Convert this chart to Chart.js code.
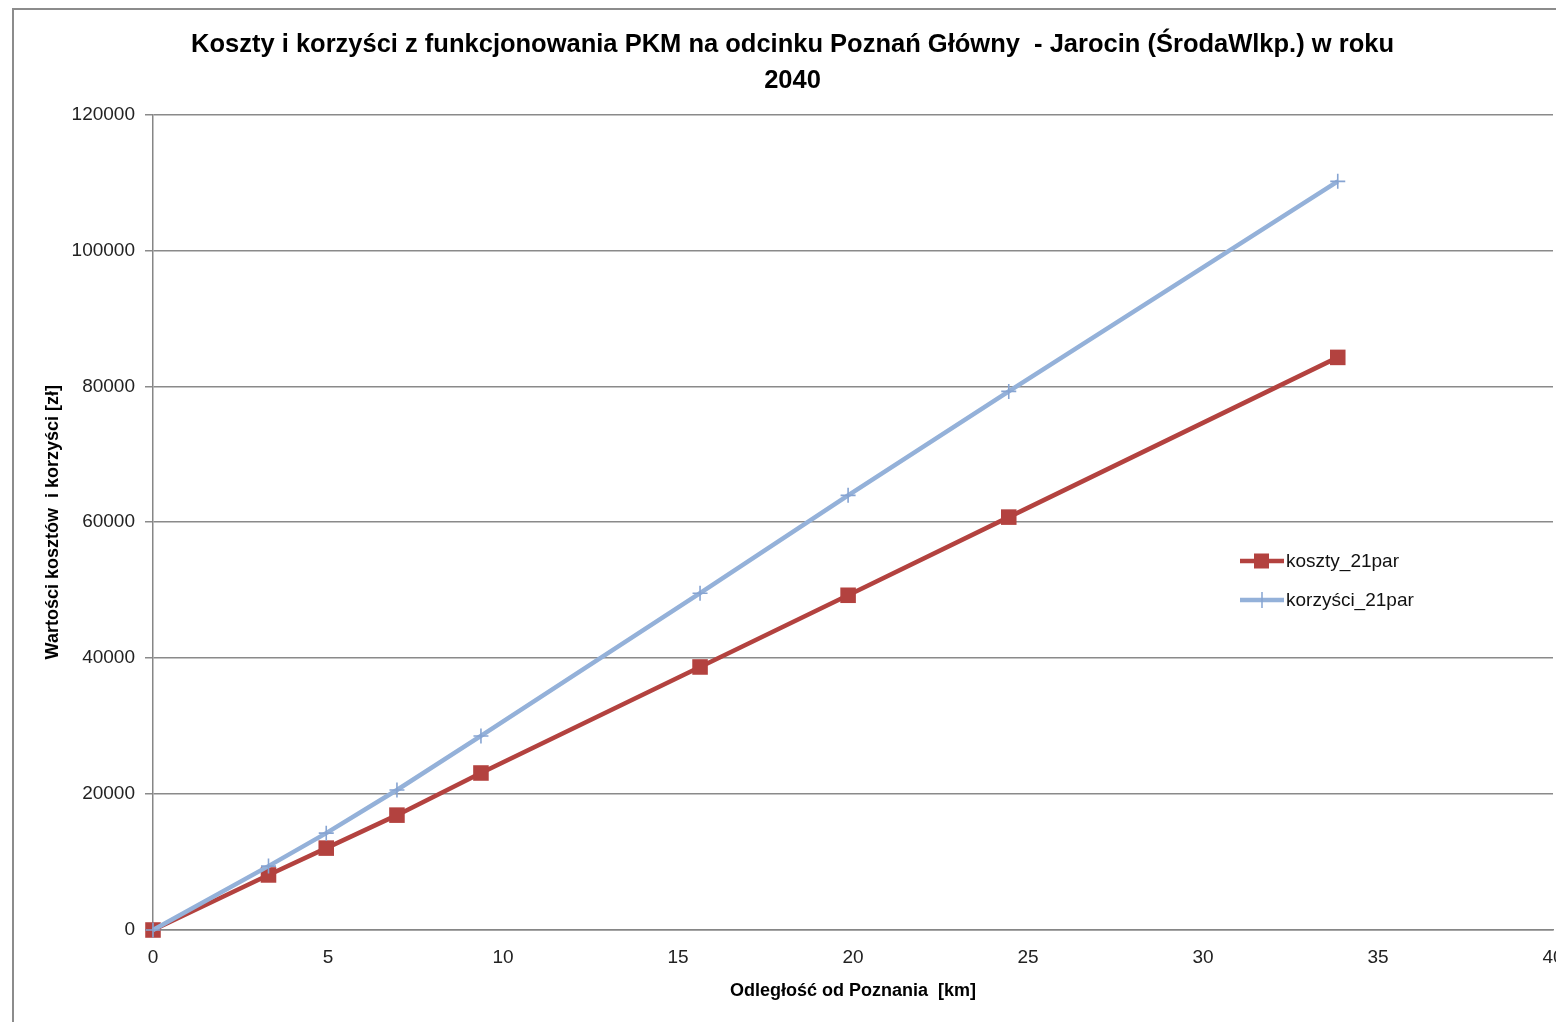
<!DOCTYPE html>
<html>
<head>
<meta charset="utf-8">
<script src="https://cdn.jsdelivr.net/npm/chart.js@4/dist/chart.umd.min.js"></script>
<style>
  html, body { margin: 0; padding: 0; background: #fff; overflow: hidden; width: 1556px; height: 1022px; }
  #box { position: absolute; left: 12px; top: 8px; width: 1600px; height: 1100px;
         border-left: 2px solid #8c8c8c; border-top: 2px solid #8c8c8c; }
  #wrap { position: absolute; left: 0; top: 0; width: 1600px; height: 1022px; }
</style>
</head>
<body>
<div id="box"></div>
<div id="wrap"><canvas id="chart"></canvas></div>
<script>
// odległość od Poznania [km]
const distances = [0, 3.3, 4.95, 6.97, 9.37, 15.63, 19.86, 24.45, 33.85];
const koszty = [0, 8100, 12050, 16900, 23100, 38700, 49250, 60750, 84250];
const korzysci = [0, 9400, 14250, 20600, 28550, 49550, 63950, 79250, 110150];
const yTicks = [0, 20000, 40000, 60000, 80000, 100000, 120000];
const xTicks = [0, 5, 10, 15, 20, 25, 30, 35, 40];

const RED = '#b3423f';
const BLUE = '#94b1d9';
const FONT = '"Liberation Sans", Arial, sans-serif';

function toPoints(vals) {
  return distances.map((d, i) => ({ x: d, y: vals[i] }));
}

// legend drawn inside the plot, like the Excel original
const sideLegend = {
  id: 'sideLegend',
  afterDraw(chart) {
    const ctx = chart.ctx;
    const x0 = 1240, rowY = [561, 600];
    chart.data.datasets.forEach((ds, i) => {
      const y = rowY[i];
      ctx.save();
      ctx.strokeStyle = ds.borderColor;
      ctx.lineWidth = 4.5;
      ctx.beginPath();
      ctx.moveTo(x0, y);
      ctx.lineTo(x0 + 44, y);
      ctx.stroke();
      if (ds.pointStyle === 'rect') {
        ctx.fillStyle = ds.pointBackgroundColor;
        ctx.fillRect(x0 + 14, y - 7.5, 15, 15);
      } else {
        ctx.lineWidth = 1.5;
        ctx.strokeStyle = ds.pointBorderColor;
        ctx.beginPath();
        ctx.moveTo(x0 + 22, y - 8);
        ctx.lineTo(x0 + 22, y + 8);
        ctx.stroke();
      }
      ctx.fillStyle = '#111';
      ctx.font = '19px ' + FONT;
      ctx.textBaseline = 'middle';
      ctx.fillText(ds.label, x0 + 46, y + 1);
      ctx.restore();
    });
  }
};

new Chart(document.getElementById('chart'), {
  type: 'scatter',
  data: {
    datasets: [
      {
        label: 'koszty_21par',
        data: toPoints(koszty),
        showLine: true,
        borderColor: RED,
        borderWidth: 4.5,
        pointStyle: 'rect',
        pointRadius: 11,
        pointBackgroundColor: RED,
        pointBorderColor: RED,
        pointBorderWidth: 0,
        clip: false,
        order: 2
      },
      {
        label: 'korzyści_21par',
        data: toPoints(korzysci),
        showLine: true,
        borderColor: BLUE,
        borderWidth: 4.5,
        pointStyle: 'cross',
        pointRadius: 7.5,
        pointBackgroundColor: BLUE,
        pointBorderColor: '#86a4d2',
        pointBorderWidth: 1.6,
        clip: false,
        order: 1
      }
    ]
  },
  options: {
    responsive: true,
    maintainAspectRatio: false,
    animation: false,
    layout: { padding: { left: 32, right: 47, top: 14, bottom: 0 } },
    plugins: {
      legend: { display: false },
      tooltip: { enabled: false },
      title: {
        display: true,
        text: ['Koszty i korzyści z funkcjonowania PKM na odcinku Poznań Główny  - Jarocin (ŚrodaWlkp.) w roku', '2040'],
        color: '#000',
        font: { family: FONT, size: 25.5, weight: 'bold', lineHeight: 1.42 },
        padding: { top: 13, bottom: 15 }
      }
    },
    scales: {
      x: {
        type: 'linear',
        min: 0,
        max: 40,
        afterBuildTicks(axis) { axis.ticks = xTicks.map(v => ({ value: v })); },
        afterFit(axis) { axis.height = 92; },
        grid: { display: false, drawTicks: true, tickLength: 6 },
        border: { color: '#868686', width: 1.5 },
        ticks: { color: '#222', font: { family: FONT, size: 19 }, padding: 10, maxRotation: 0,
                 callback: v => String(v) },
        title: {
          display: true,
          text: 'Odległość od Poznania  [km]',
          color: '#000',
          font: { family: FONT, size: 18, weight: 'bold' },
          padding: { top: 4, bottom: 20 }
        }
      },
      y: {
        min: 0,
        max: 120000,
        afterBuildTicks(axis) { axis.ticks = yTicks.map(v => ({ value: v })); },
        afterFit(axis) { axis.width = 121; },
        grid: { color: '#8a8a8a', lineWidth: 1.5, tickLength: 8 },
        border: { color: '#868686', width: 1.5 },
        ticks: { color: '#222', font: { family: FONT, size: 19 }, padding: 10,
                 callback: v => String(v) },
        title: {
          display: true,
          text: 'Wartości kosztów  i korzyści [zł]',
          color: '#000',
          font: { family: FONT, size: 18, weight: 'bold' },
          padding: { top: 10, bottom: 4 }
        }
      }
    }
  },
  plugins: [sideLegend]
});
</script>
</body>
</html>
